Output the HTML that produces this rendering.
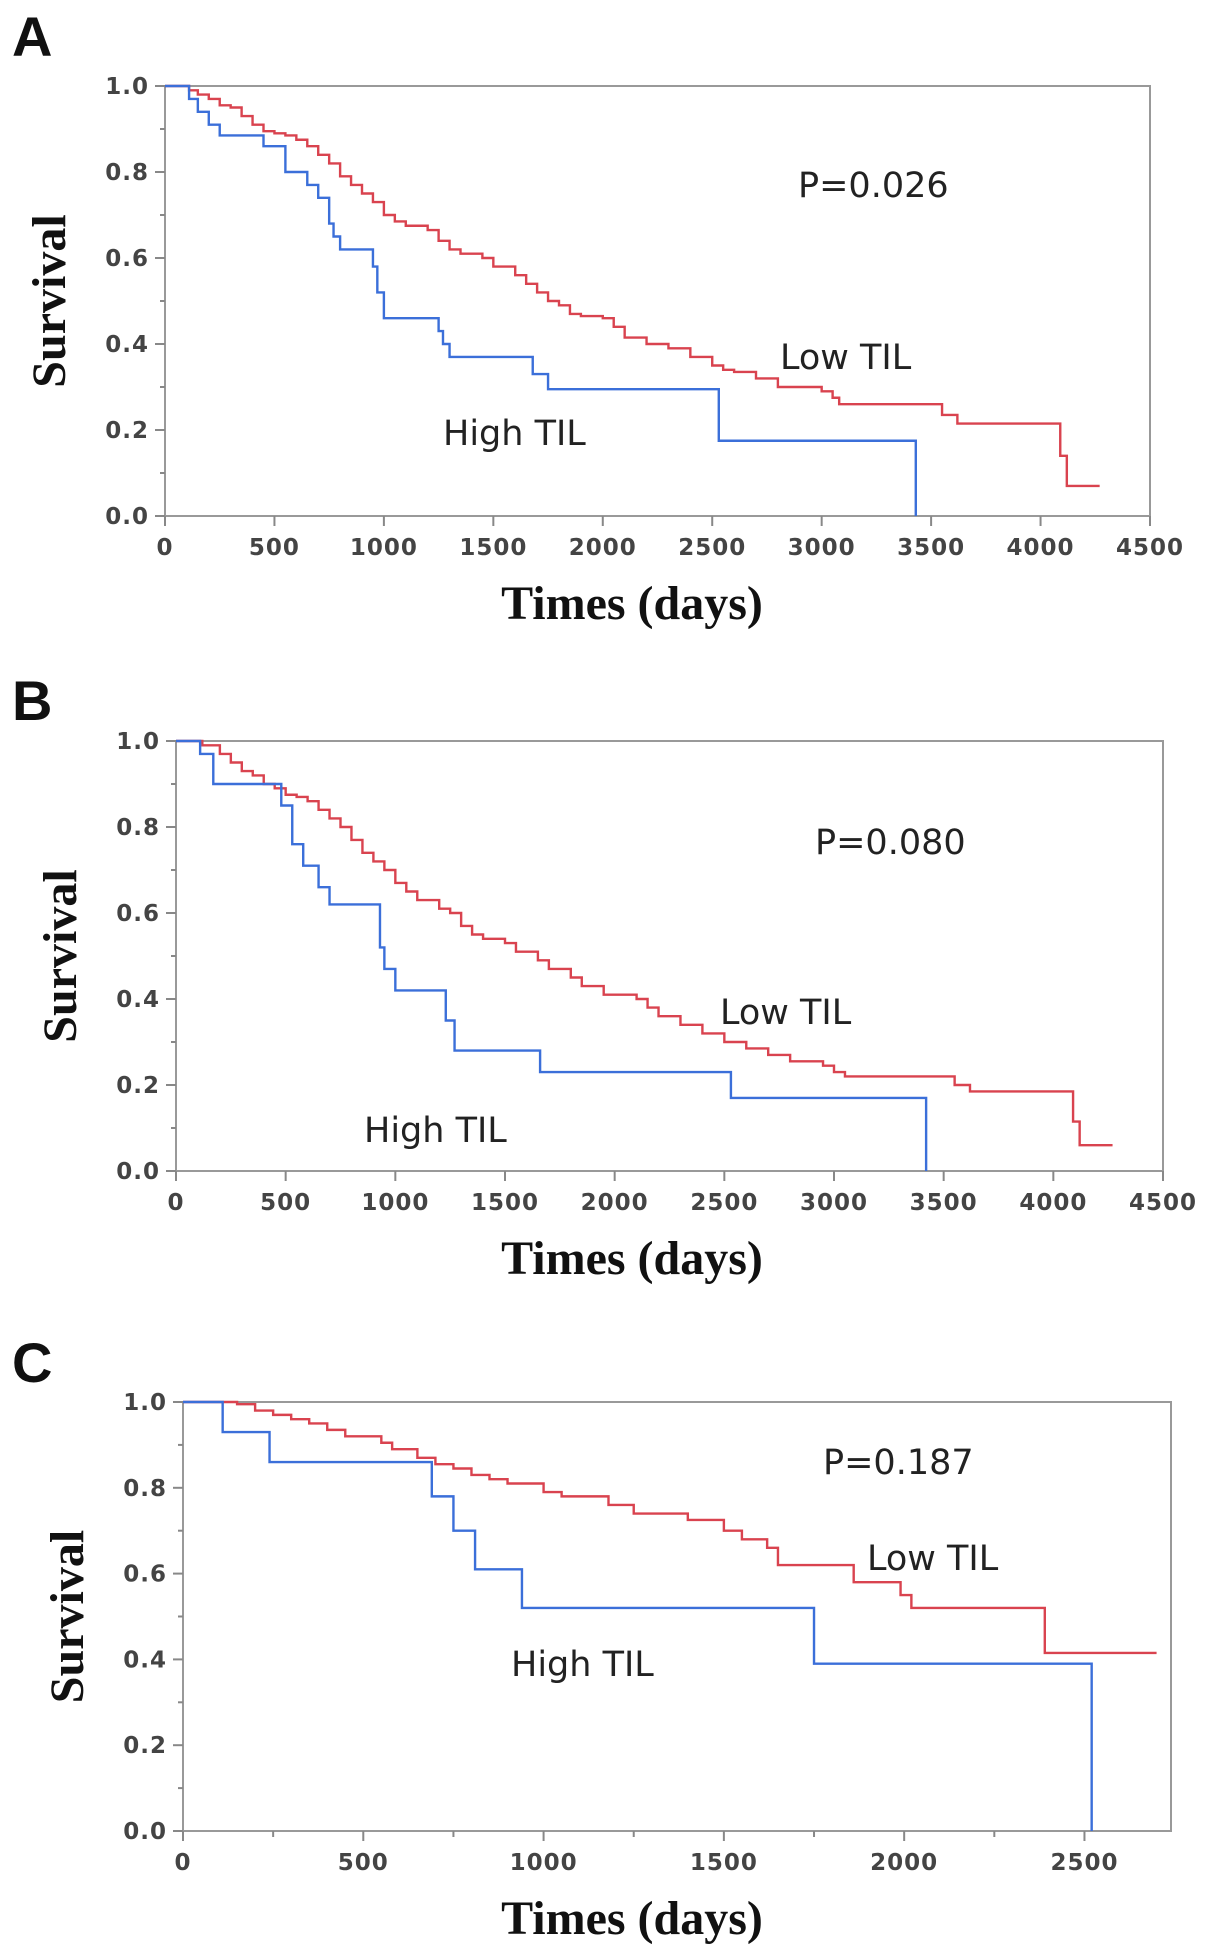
<!DOCTYPE html>
<html><head><meta charset="utf-8"><style>
html,body{margin:0;padding:0;background:#fff;}
svg{display:block;}
.tick{font-family:"DejaVu Sans",sans-serif;font-weight:bold;font-size:23px;fill:#444;letter-spacing:1px;}
.title{font-family:"Liberation Serif",serif;font-weight:bold;font-size:48px;fill:#111;}
.ann{font-family:"DejaVu Sans",sans-serif;font-size:35px;fill:#222;}
.panel{font-family:"Liberation Sans",sans-serif;font-weight:bold;font-size:56px;fill:#111;}
</style></head><body>
<svg id="chart" width="1205" height="1957" viewBox="0 0 1205 1957" xmlns="http://www.w3.org/2000/svg"></svg>
<script>
// Panel A data
const aLowT=[0,110,150,200,250,300,350,400,450,500,550,600,650,700,750,800,850,900,950,1000,1050,1100,1200,1250,1300,1350,1450,1500,1600,1650,1700,1750,1800,1850,1900,2000,2050,2100,2200,2300,2400,2500,2550,2600,2700,2800,3000,3050,3080,3550,3620,4090,4120,4270];
const aLowS=[1,0.99,0.98,0.97,0.955,0.95,0.93,0.91,0.895,0.89,0.885,0.875,0.86,0.84,0.82,0.79,0.77,0.75,0.73,0.70,0.685,0.675,0.665,0.64,0.62,0.61,0.60,0.58,0.56,0.54,0.52,0.50,0.49,0.47,0.465,0.46,0.44,0.415,0.40,0.39,0.37,0.35,0.34,0.335,0.32,0.30,0.29,0.275,0.26,0.235,0.215,0.14,0.07,0.07];
const aHighT=[0,110,150,200,250,450,550,650,700,750,770,800,950,970,1000,1250,1270,1300,1680,1750,2530,3430];
const aHighS=[1,0.97,0.94,0.91,0.885,0.86,0.80,0.77,0.74,0.68,0.65,0.62,0.58,0.52,0.46,0.43,0.40,0.37,0.33,0.295,0.175,0];
// Panel B data
const bLowT=[0,120,200,250,300,350,400,450,500,550,600,650,700,750,800,850,900,950,1000,1050,1100,1200,1250,1300,1350,1400,1500,1550,1650,1700,1800,1850,1950,2100,2150,2200,2300,2400,2500,2600,2700,2800,2950,3000,3050,3550,3620,4090,4120,4270];
const bLowS=[1,0.99,0.97,0.95,0.93,0.92,0.90,0.89,0.875,0.87,0.86,0.84,0.82,0.80,0.77,0.74,0.72,0.70,0.67,0.65,0.63,0.61,0.60,0.57,0.55,0.54,0.53,0.51,0.49,0.47,0.45,0.43,0.41,0.40,0.38,0.36,0.34,0.32,0.30,0.285,0.27,0.255,0.245,0.23,0.22,0.20,0.185,0.115,0.06,0.06];
const bHighT=[0,110,170,480,530,580,650,700,930,950,1000,1230,1270,1660,2530,3420];
const bHighS=[1,0.97,0.90,0.85,0.76,0.71,0.66,0.62,0.52,0.47,0.42,0.35,0.28,0.23,0.17,0];
// Panel C data
const cLowT=[0,150,200,250,300,350,400,450,550,580,650,700,750,800,850,900,1000,1050,1180,1250,1400,1500,1550,1620,1650,1860,1990,2020,2390,2700];
const cLowS=[1,0.995,0.98,0.97,0.96,0.95,0.935,0.92,0.905,0.89,0.87,0.855,0.845,0.83,0.82,0.81,0.79,0.78,0.76,0.74,0.725,0.70,0.68,0.66,0.62,0.58,0.55,0.52,0.415,0.415];
const cHighT=[0,110,240,690,750,810,940,1750,2520];
const cHighS=[1,0.93,0.86,0.78,0.70,0.61,0.52,0.39,0];
const yTicks=["0.0","0.2","0.4","0.6","0.8","1.0"];
const abTicks=["0","500","1000","1500","2000","2500","3000","3500","4000","4500"];
const cTicks=["0","500","1000","1500","2000","2500"];

const svg=document.getElementById('chart');
const NS='http://www.w3.org/2000/svg';
function mk(tag,attrs,parent){const e=document.createElementNS(NS,tag);for(const k in attrs)e.setAttribute(k,attrs[k]);(parent||svg).appendChild(e);return e;}

function panel(o){
  const g=mk('g',{});
  
  
  const X=v=>o.l+(v/o.xmax)*(o.r-o.l);
  const Y=v=>o.b-(v)*(o.b-o.t);
  let t=mk('text',{x:o.lx,y:o.ly,class:'panel'},g);t.textContent=o.id;
  
  
  const box=mk('rect',{x:o.l,y:o.t,width:o.r-o.l,height:o.b-o.t,fill:'none',stroke:'#999','stroke-width':2},g);
  
  
  for(let i=0;i<=10;i++){const v=i/10,y=Y(v);
    mk('line',{x1:o.l-(i%2?5:10),x2:o.l,y1:y,y2:y,stroke:'#888','stroke-width':2},g);}
  yTicks.forEach(s=>{const tx=mk('text',{x:o.l-16,y:Y(parseFloat(s))+8,class:'tick','text-anchor':'end'},g);tx.textContent=s;
    
    });
  o.ticks.forEach(s=>{const v=parseFloat(s),x=X(v);
    mk('line',{x1:x,x2:x,y1:o.b,y2:o.b+10,stroke:'#888','stroke-width':2},g);
    const tx=mk('text',{x:x,y:o.b+39,class:'tick','text-anchor':'middle'},g);tx.textContent=s;
    
    });
  if(o.minor){for(let v=250;v<o.xmax;v+=500){const x=X(v);mk('line',{x1:x,x2:x,y1:o.b,y2:o.b+6,stroke:'#888','stroke-width':2},g);}}
  function step(T,S,col,name){let d='M'+X(T[0])+','+Y(S[0]);
    for(let i=1;i<T.length;i++){d+=' H'+X(T[i])+' V'+Y(S[i]);}
    const p=mk('path',{d:d,fill:'none',stroke:col,'stroke-width':2.4},g);
    
    }
  step(o.lowT,o.lowS,'#d9434f','low-til-curve');
  step(o.highT,o.highS,'#3b6fd9','high-til-curve');
  const yt=mk('text',{x:0,y:0,class:'title','text-anchor':'middle',transform:'translate('+(o.l-100)+','+((o.t+o.b)/2)+') rotate(-90)'},g);yt.textContent='Survival';
  
  
  const xt=mk('text',{x:632,y:o.b+103,class:'title','text-anchor':'middle'},g);xt.textContent='Times (days)';
  
  
  const pv=mk('text',{x:o.px,y:o.py,class:'ann'},g);pv.textContent=o.p;
  
  
  const lo=mk('text',{x:o.lowx,y:o.lowy,class:'ann'},g);lo.textContent='Low TIL';
  
  
  const hi=mk('text',{x:o.hix,y:o.hiy,class:'ann'},g);hi.textContent='High TIL';
  
  
}
panel({id:'A',l:165,r:1150,t:86,b:516,xmax:4500,ticks:abTicks,lx:12,ly:56,lowT:aLowT,lowS:aLowS,highT:aHighT,highS:aHighS,p:'P=0.026',px:798,py:197,lowx:780,lowy:369,hix:443,hiy:445});
panel({id:'B',l:176,r:1163,t:741,b:1171,xmax:4500,ticks:abTicks,lx:12,ly:720,lowT:bLowT,lowS:bLowS,highT:bHighT,highS:bHighS,p:'P=0.080',px:815,py:854,lowx:720,lowy:1024,hix:364,hiy:1142});
panel({id:'C',l:183,r:1171,t:1402,b:1831,xmax:2740,ticks:cTicks,minor:true,lx:12,ly:1382,lowT:cLowT,lowS:cLowS,highT:cHighT,highS:cHighS,p:'P=0.187',px:823,py:1474,lowx:867,lowy:1570,hix:511,hiy:1676});
</script>
</body></html>
